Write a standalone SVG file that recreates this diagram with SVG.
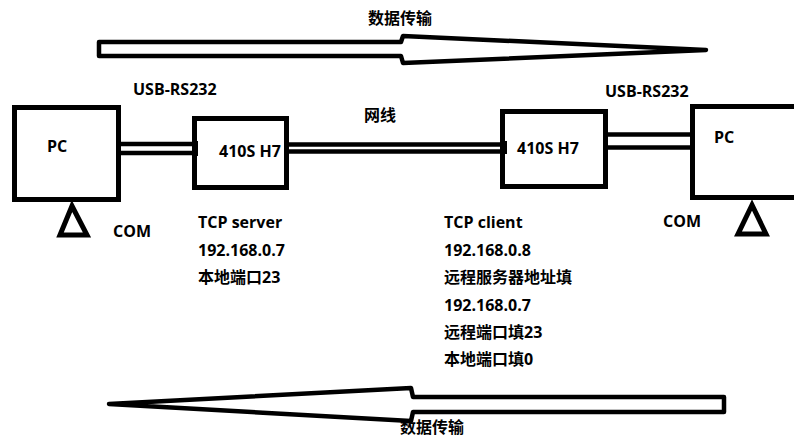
<svg xmlns="http://www.w3.org/2000/svg" width="794" height="439" viewBox="0 0 794 439">
<style>
.box{fill:#fff;stroke:#000;stroke-width:5}
.arrow{fill:#fff;stroke:#000;stroke-width:4.5;stroke-linejoin:round}
.wire{stroke:#000;stroke-width:4.5;fill:none}
.tri{fill:none;stroke:#000;stroke-width:5;stroke-linejoin:miter}
text{font-family:"Open Sans","Noto Sans CJK SC",sans-serif;font-weight:bold;font-size:16px;fill:#000}
</style>
<rect width="794" height="439" fill="#fff"/>
<g id="arrow-top">
<polygon class="arrow" points="99,42 401,42 403,36 706,50 403,63 401,56 99,56"/>
<text x="368" y="24">数据传输</text>
</g>
<g id="arrow-bottom">
<polygon class="arrow" points="724,397 413,397 411,388 109,404 411,421 413,412 724,412"/>
<text x="400" y="433">数据传输</text>
</g>
<g id="connectors">
<line class="wire" x1="119" y1="144" x2="194" y2="144"/>
<line class="wire" x1="119" y1="153" x2="194" y2="153"/>
<line class="wire" x1="287" y1="144.5" x2="502" y2="144.5"/>
<line class="wire" x1="287" y1="151.5" x2="502" y2="151.5"/>
<line class="wire" x1="605" y1="134.5" x2="692" y2="134.5"/>
<line class="wire" x1="605" y1="147.5" x2="692" y2="147.5"/>
<text x="133" y="95">USB-RS232</text>
<text x="605" y="97">USB-RS232</text>
<text x="364" y="121">网线</text>
</g>
<g id="pc-left">
<rect class="box" x="14.5" y="107.5" width="104" height="92"/>
<text x="47" y="152">PC</text>
<polygon class="tri" points="72,206 60,235 87,235"/>
<text x="113" y="237">COM</text>
</g>
<g id="h7-left">
<rect class="box" x="194.5" y="118.5" width="92" height="69"/>
<text x="219" y="157">410S H7</text>
<rect x="192" y="141" width="6" height="15" fill="#000"/>
</g>
<g id="h7-right">
<rect class="box" x="502.5" y="111.5" width="103" height="75"/>
<text x="517" y="154">410S H7</text>
<rect x="500" y="141" width="7" height="13" fill="#000"/>
</g>
<g id="pc-right">
<rect class="box" x="692.5" y="106.5" width="120" height="91"/>
<text x="714" y="143">PC</text>
<polygon class="tri" points="752,205 738,234 766,234"/>
<text x="663" y="227">COM</text>
</g>
<g id="server-info">
<text x="198" y="228">TCP server</text>
<text x="198" y="256">192.168.0.7</text>
<text x="198" y="283">本地端口23</text>
</g>
<g id="client-info">
<text x="444" y="228">TCP client</text>
<text x="444" y="256">192.168.0.8</text>
<text x="444" y="283">远程服务器地址填</text>
<text x="444" y="311">192.168.0.7</text>
<text x="444" y="338">远程端口填23</text>
<text x="444" y="365">本地端口填0</text>
</g>
</svg>
